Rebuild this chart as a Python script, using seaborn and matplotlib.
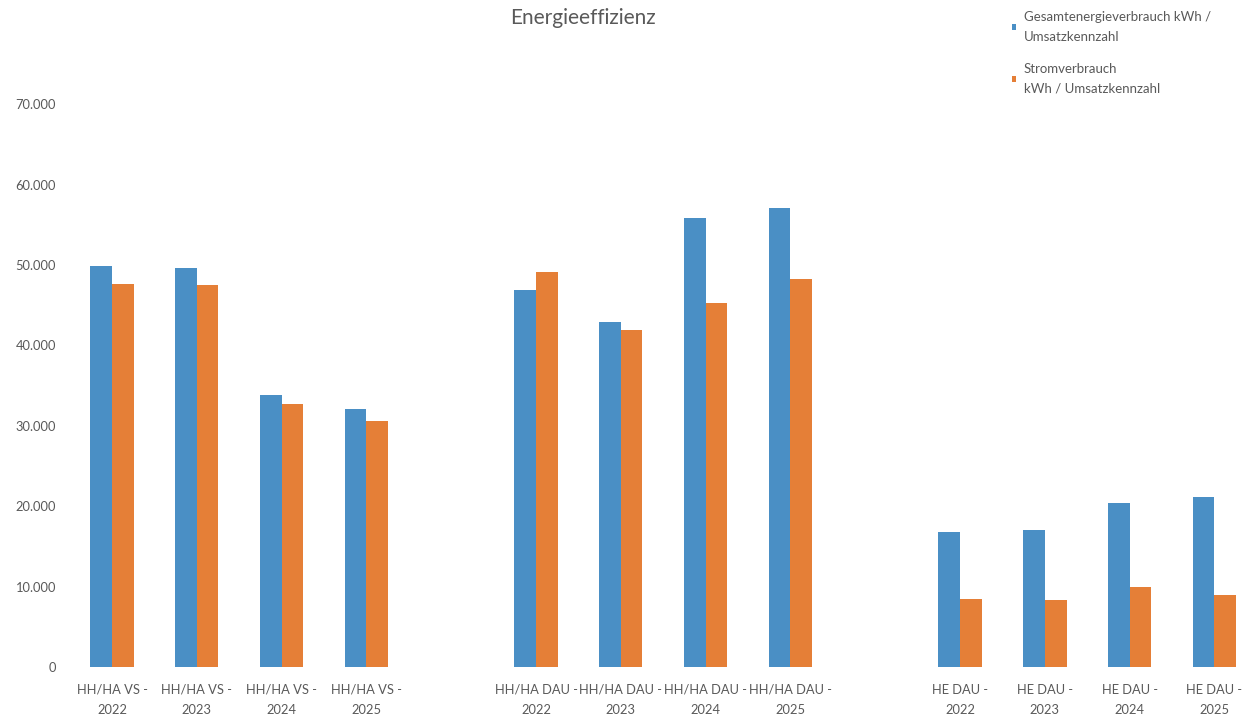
import numpy as np
import pandas as pd
import matplotlib
matplotlib.use("Agg")
import matplotlib.pyplot as plt
import seaborn as sns
from matplotlib.patches import Patch
from matplotlib.ticker import FuncFormatter, FixedLocator

# Standorte, Jahre und Kennzahlen
sites = ["HH/HA VS", "HH/HA DAU", "HE DAU"]
years = ["2022", "2023", "2024", "2025"]
series = [
    "Gesamtenergieverbrauch kWh /\nUmsatzkennzahl",
    "Stromverbrauch\nkWh / Umsatzkennzahl",
]
gesamt = [49900, 49700, 33800, 32100,
          46900, 42900, 55800, 57100,
          16800, 17000, 20400, 21200]
strom = [47600, 47500, 32700, 30600,
         49200, 41900, 45300, 48300,
         8500, 8300, 9900, 8900]
yticks = [0, 10000, 20000, 30000, 40000, 50000, 60000, 70000]

colors = ["#4A8FC5", "#E57F37"]
text_color = "#595959"

sns.set_theme(style="white")
plt.rcParams["font.family"] = ["Lato", "DejaVu Sans"]

# Kategorien: je Standort vier Jahre, dazwischen eine leere Spalte
categories = [f"{s} -\n{y}" for s in sites for y in years]
order = []
for i, s in enumerate(sites):
    order += [f"{s} -\n{y}" for y in years]
    if i < len(sites) - 1:
        order.append(" " * (i + 1))

df = pd.DataFrame({
    "Kategorie": categories * 2,
    "Reihe": [series[0]] * len(categories) + [series[1]] * len(categories),
    "Wert": gesamt + strom,
})

fig = plt.figure(figsize=(12.42, 7.19), dpi=100)
fig.patch.set_facecolor("white")
ax = fig.add_axes([0.056, 0.0723, 0.956, 0.7826])

sns.barplot(data=df, x="Kategorie", y="Wert", hue="Reihe",
            order=order, hue_order=series, palette=colors,
            saturation=1, width=0.51, ax=ax, legend=False,
            errorbar=None, linewidth=0, edgecolor="none")

ax.set_xlim(-0.5, len(order) - 0.5)
ax.set_ylim(0, 70000)
ax.yaxis.set_major_locator(FixedLocator(yticks))
ax.yaxis.set_major_formatter(
    FuncFormatter(lambda v, p: f"{int(v):,}".replace(",", ".")))
ax.set_xticks(range(len(order)))
ax.set_xticklabels([c.strip() for c in order], linespacing=1.8)
ax.tick_params(axis="both", length=0, labelsize=9.3, labelcolor=text_color)
ax.tick_params(axis="y", pad=9.8)
ax.tick_params(axis="x", pad=12)
ax.set_xlabel("")
ax.set_ylabel("")
for sp in ax.spines.values():
    sp.set_visible(False)
ax.grid(False)

fig.text(583 / 1242, 1 - 18 / 719, "Energieeffizienz", ha="center",
         va="center", fontsize=15, color=text_color)

handles = [Patch(facecolor=c, edgecolor="none") for c in colors]
leg = fig.legend(handles, series, loc="upper left",
                 bbox_to_anchor=(1000 / 1242, 1 + 1 / 719),
                 frameon=False, labelcolor=text_color,
                 handlelength=0.35, handleheight=0.35, handletextpad=0.55,
                 labelspacing=1.5, prop={"size": 9.5})
for t in leg.get_texts():
    t.set_linespacing(1.8)

fig.savefig("out.png", dpi=100, facecolor="white")
